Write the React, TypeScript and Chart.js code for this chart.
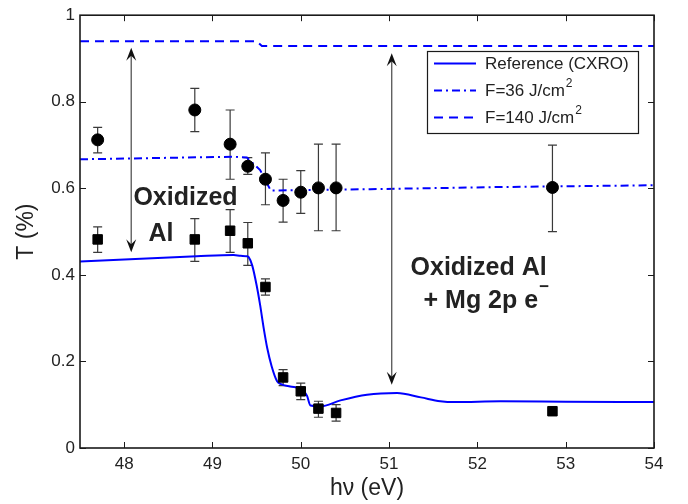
import React, { useEffect, useRef } from "react";
import { Chart, registerables } from "chart.js";

Chart.register(...registerables);

const FONT = '"Liberation Sans", Arial, Helvetica, sans-serif';
const TEXT = "#222222";
const BLUE = "#0000ff";

// axis
const xTickValues = [48, 49, 50, 51, 52, 53, 54];
const yTickValues = [0, 0.2, 0.4, 0.6, 0.8, 1];
const xMin = 47.5;
const xMax = 54;

// measured points (photon energy, eV)
const energies = [47.7, 48.8, 49.2, 49.4, 49.6, 49.8, 50.0, 50.2, 50.4, 52.85];
// circles
const circleT = [0.712, 0.781, 0.702, 0.651, 0.621, 0.572, 0.591, 0.601, 0.601, 0.602];
const circleLow = [0.682, 0.731, 0.621, 0.632, 0.562, 0.522, 0.542, 0.502, 0.502, 0.5];
const circleHigh = [0.741, 0.831, 0.781, 0.671, 0.682, 0.621, 0.641, 0.702, 0.702, 0.7];
// squares
const squareT = [0.482, 0.482, 0.502, 0.473, 0.372, 0.163, 0.131, 0.091, 0.081, 0.085];
const squareLow = [0.452, 0.431, 0.452, 0.422, 0.353, 0.144, 0.112, 0.071, 0.062, 0.085];
const squareHigh = [0.511, 0.53, 0.551, 0.521, 0.391, 0.181, 0.15, 0.108, 0.1, 0.085];

// Reference (CXRO)
const refX = [47.5, 48.82, 49.24, 49.32, 49.39, 49.41, 49.45, 49.5, 49.54, 49.58, 49.62, 49.67, 49.73, 49.77, 49.88, 50.01, 50.07, 50.11, 50.22, 50.45, 50.75, 51.09, 51.36, 51.58, 51.75, 52.26, 53.0, 54.0];
const refT = [0.431, 0.443, 0.446, 0.444, 0.443, 0.441, 0.422, 0.376, 0.33, 0.277, 0.231, 0.189, 0.155, 0.148, 0.142, 0.136, 0.121, 0.098, 0.096, 0.11, 0.123, 0.127, 0.117, 0.108, 0.106, 0.108, 0.107, 0.106];
// F = 36 J/cm2
const f36X = [47.5, 49.24, 49.39, 49.54, 49.66, 50.79, 52.26, 54.0];
const f36T = [0.667, 0.673, 0.671, 0.642, 0.595, 0.598, 0.603, 0.607];
// F = 140 J/cm2
const f140X = [47.5, 49.5, 49.56, 54.0];
const f140T = [0.94, 0.94, 0.929, 0.929];

// double arrows
const arrowX = [48.08, 51.03];
const arrowTop = [0.925, 0.912];
const arrowBottom = [0.452, 0.146];

const legendLabels = ["Reference (CXRO)", "F=36 J/cm", "F=140 J/cm"];
const legendSup = ["", "2", "2"];

const toPts = (xs: number[], ys: number[]) => xs.map((v, i) => ({ x: v, y: ys[i] }));

const overlay = {
  id: "overlay",
  beforeDatasetsDraw(chart: any) {
    const { ctx, scales } = chart;
    const x = scales.x;
    const y = scales.y;
    ctx.save();
    ctx.strokeStyle = "#3a3a3a";
    ctx.lineWidth = 1.2;
    const bar = (xv: number, lo: number, hi: number) => {
      if (hi - lo < 1e-6) return;
      const px = x.getPixelForValue(xv);
      const p1 = y.getPixelForValue(lo);
      const p2 = y.getPixelForValue(hi);
      ctx.beginPath();
      ctx.moveTo(px, p1);
      ctx.lineTo(px, p2);
      ctx.moveTo(px - 4.5, p1);
      ctx.lineTo(px + 4.5, p1);
      ctx.moveTo(px - 4.5, p2);
      ctx.lineTo(px + 4.5, p2);
      ctx.stroke();
    };
    energies.forEach((e, i) => {
      bar(e, circleLow[i], circleHigh[i]);
      bar(e, squareLow[i], squareHigh[i]);
    });
    ctx.restore();
  },
  afterDraw(chart: any) {
    const { ctx, chartArea, scales } = chart;
    const x = scales.x;
    const y = scales.y;
    const { left, right, top, bottom } = chartArea;
    ctx.save();

    // arrows
    const head = (tx: number, ty: number, d: number) => {
      ctx.beginPath();
      ctx.moveTo(tx, ty);
      ctx.lineTo(tx - 5, ty - d * 13);
      ctx.lineTo(tx, ty - d * 8);
      ctx.lineTo(tx + 5, ty - d * 13);
      ctx.closePath();
      ctx.fill();
    };
    arrowX.forEach((ax, i) => {
      const px = x.getPixelForValue(ax);
      const pt = y.getPixelForValue(arrowTop[i]);
      const pb = y.getPixelForValue(arrowBottom[i]);
      ctx.strokeStyle = "#555555";
      ctx.lineWidth = 1.3;
      ctx.beginPath();
      ctx.moveTo(px, pt + 6);
      ctx.lineTo(px, pb - 6);
      ctx.stroke();
      ctx.fillStyle = "#111111";
      head(px, pt, -1);
      head(px, pb, 1);
    });

    // annotations
    ctx.fillStyle = TEXT;
    ctx.textAlign = "left";
    ctx.textBaseline = "alphabetic";
    ctx.font = `bold 25px ${FONT}`;
    ctx.fillText("Oxidized", x.getPixelForValue(48.105), y.getPixelForValue(0.562));
    ctx.fillText("Al", x.getPixelForValue(48.276), y.getPixelForValue(0.479));
    ctx.fillText("Oxidized Al", x.getPixelForValue(51.243), y.getPixelForValue(0.399));
    const l2x = x.getPixelForValue(51.39);
    const l2y = y.getPixelForValue(0.323);
    ctx.fillText("+ Mg 2p e", l2x, l2y);
    const w2 = ctx.measureText("+ Mg 2p e").width;
    ctx.font = `bold 17px ${FONT}`;
    ctx.fillText("\u2212", l2x + w2 + 1, l2y - 16);

    // box
    ctx.strokeStyle = "#1a1a1a";
    ctx.lineWidth = 1.6;
    ctx.strokeRect(left, top, right - left, bottom - top);

    // ticks (inside, all sides)
    ctx.lineWidth = 1;
    ctx.beginPath();
    xTickValues.forEach((v) => {
      const px = Math.round(x.getPixelForValue(v)) + 0.5;
      ctx.moveTo(px, bottom);
      ctx.lineTo(px, bottom - 6);
      ctx.moveTo(px, top);
      ctx.lineTo(px, top + 6);
    });
    yTickValues.forEach((v) => {
      const py = Math.round(y.getPixelForValue(v)) + 0.5;
      ctx.moveTo(left, py);
      ctx.lineTo(left + 6, py);
      ctx.moveTo(right, py);
      ctx.lineTo(right - 6, py);
    });
    ctx.stroke();

    // axis titles
    ctx.fillStyle = TEXT;
    ctx.font = `23px ${FONT}`;
    ctx.textAlign = "center";
    ctx.textBaseline = "middle";
    ctx.fillText("h\u03bd (eV)", (left + right) / 2, 489);
    ctx.save();
    ctx.translate(27, (top + bottom) / 2);
    ctx.rotate(-Math.PI / 2);
    ctx.fillText("T (%)", 0, 0);
    ctx.restore();

    // legend
    const bx = 427, by = 51, bw = 211, bh = 82;
    ctx.fillStyle = "#ffffff";
    ctx.fillRect(bx, by, bw, bh);
    ctx.strokeStyle = "#1a1a1a";
    ctx.lineWidth = 1.2;
    ctx.strokeRect(bx + 0.5, by + 0.5, bw, bh);
    const rows = [63.5, 90.5, 117.5];
    const dashes = [[], [8, 4, 2, 4], [9, 6]];
    rows.forEach((ry, i) => {
      ctx.strokeStyle = BLUE;
      ctx.lineWidth = 2;
      ctx.setLineDash(dashes[i]);
      ctx.beginPath();
      ctx.moveTo(434, ry);
      ctx.lineTo(476, ry);
      ctx.stroke();
      ctx.setLineDash([]);
      ctx.fillStyle = TEXT;
      ctx.font = `17px ${FONT}`;
      ctx.textAlign = "left";
      ctx.textBaseline = "middle";
      ctx.fillText(legendLabels[i], 485, ry + 1);
      if (legendSup[i]) {
        const w = ctx.measureText(legendLabels[i]).width;
        ctx.font = `12px ${FONT}`;
        ctx.fillText(legendSup[i], 485 + w + 1, ry - 7);
      }
    });

    ctx.restore();
  },
};

export default function App() {
  const ref = useRef<HTMLCanvasElement | null>(null);
  useEffect(() => {
    if (!ref.current) return;
    const chart = new Chart(ref.current, {
      type: "scatter",
      data: {
        datasets: [
          {
            label: "circles",
            data: toPts(energies, circleT),
            pointStyle: "circle",
            pointRadius: 6,
            pointBackgroundColor: "#000",
            pointBorderColor: "#000",
            showLine: false,
            order: 0,
          } as any,
          {
            label: "squares",
            data: toPts(energies, squareT),
            pointStyle: "rect",
            pointRadius: 6.7,
            pointBackgroundColor: "#000",
            pointBorderColor: "#000",
            showLine: false,
            order: 0,
          },
          {
            label: "Reference (CXRO)",
            data: toPts(refX, refT),
            showLine: true,
            borderColor: BLUE,
            borderWidth: 2,
            pointRadius: 0,
            cubicInterpolationMode: "monotone",
            order: 1,
          },
          {
            label: "F=36 J/cm2",
            data: toPts(f36X, f36T),
            showLine: true,
            borderColor: BLUE,
            borderWidth: 2,
            borderDash: [8, 4, 2, 4],
            pointRadius: 0,
            order: 1,
          },
          {
            label: "F=140 J/cm2",
            data: toPts(f140X, f140T),
            showLine: true,
            borderColor: BLUE,
            borderWidth: 2,
            borderDash: [9, 6],
            pointRadius: 0,
            order: 1,
          },
        ],
      },
      options: {
        responsive: false,
        animation: false,
        events: [],
        layout: { padding: { left: 0, right: 34, top: 10, bottom: 0 } },
        plugins: { legend: { display: false }, tooltip: { enabled: false }, title: { display: false } },
        scales: {
          x: {
            type: "linear",
            min: xMin,
            max: xMax,
            grid: { display: false, drawTicks: false },
            border: { display: false },
            ticks: {
              color: TEXT,
              font: { family: FONT, size: 17 },
              padding: 6,
              callback: (v: any) => String(Math.round(Number(v) * 100) / 100),
            },
            afterBuildTicks: (s: any) => {
              s.ticks = xTickValues.map((v) => ({ value: v }));
            },
            afterFit: (s: any) => {
              s.height = 56;
            },
          },
          y: {
            type: "linear",
            min: 0,
            max: 1,
            grid: { display: false, drawTicks: false },
            border: { display: false },
            ticks: {
              color: TEXT,
              font: { family: FONT, size: 17 },
              padding: 5,
              callback: (v: any) => String(Math.round(Number(v) * 100) / 100),
            },
            afterBuildTicks: (s: any) => {
              s.ticks = yTickValues.map((v) => ({ value: v }));
            },
            afterFit: (s: any) => {
              s.width = 80;
            },
          },
        },
      },
      plugins: [overlay],
    });
    return () => chart.destroy();
  }, []);
  return (
    <div style={{ position: "absolute", left: 0, top: 0, width: 688, height: 504, background: "#fff" }}>
      <canvas ref={ref} width={688} height={504} style={{ display: "block" }} />
    </div>
  );
}
